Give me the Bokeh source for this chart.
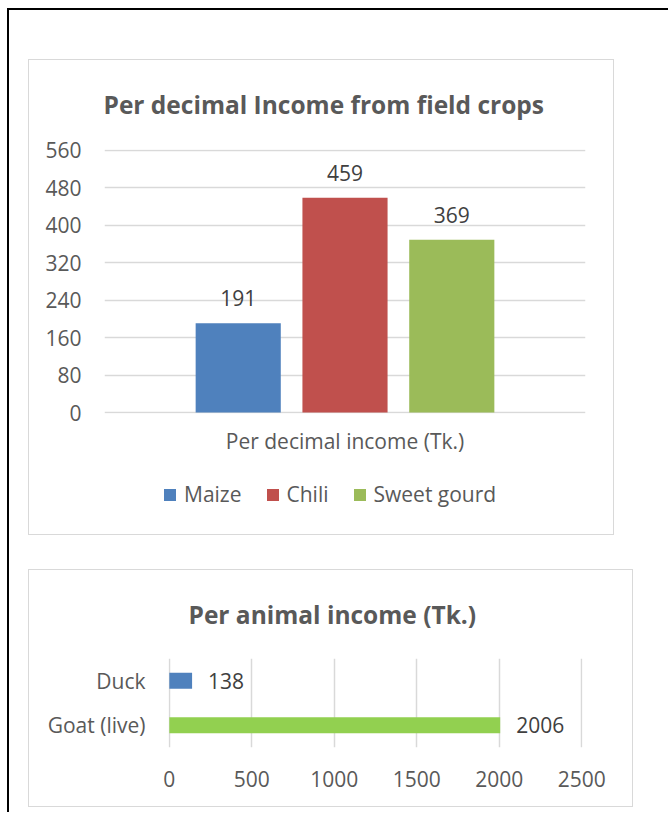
from bokeh.plotting import figure
from bokeh.models import (ColumnDataSource, FactorRange, Range1d, FixedTicker,
                          Legend, LegendItem, Title)
from bokeh.transform import dodge
from bokeh.layouts import column
from bokeh.core.properties import value
from bokeh.embed import file_html
from bokeh.resources import INLINE

# ---------------- data ----------------
crop_title = "Per decimal Income from field crops"
crop_category = "Per decimal income (Tk.)"
crops = ["Maize", "Chili", "Sweet gourd"]
crop_income = [191, 459, 369]
crop_colors = ["#4F81BD", "#C0504D", "#9BBB59"]
crop_ticks = [0, 80, 160, 240, 320, 400, 480, 560]

animal_title = "Per animal income (Tk.)"
animals = ["Goat (live)", "Duck"]
animal_income = [2006, 138]
animal_colors = ["#92D050", "#4F81BD"]
animal_ticks = [0, 500, 1000, 1500, 2000, 2500]

FONT = "Open Sans"
GREY = "#595959"
DARK = "#404040"
GRID = "#D9D9D9"
FS = "21px"


def no_align(p):
    if "frame_align" in p.properties():
        p.frame_align = False


def style_axis(ax):
    ax.axis_line_color = None
    ax.major_tick_line_color = None
    ax.minor_tick_line_color = None
    ax.major_label_text_font = FONT
    ax.major_label_text_font_size = FS
    ax.major_label_text_color = GREY


# ---------------- top chart ----------------
p1 = figure(width=584, height=410, x_range=FactorRange(crop_category),
            y_range=Range1d(-2, 562), output_backend="svg", toolbar_location=None,
            min_border_left=75, min_border_right=28, min_border_top=89,
            min_border_bottom=57)
no_align(p1)
p1.outline_line_color = None
p1.border_fill_color = "white"
p1.title = Title(text=crop_title, align="left", offset=-1, standoff=53,
                 vertical_align="top", text_font=FONT, text_font_size="24.5px",
                 text_font_style="bold", text_color=GREY)

for i, (crop, inc, col) in enumerate(zip(crops, crop_income, crop_colors)):
    src = ColumnDataSource(dict(cat=[crop_category], income=[inc], label=[str(inc)]))
    xpos = dodge("cat", (i - 1) * 0.222, range=p1.x_range)
    p1.vbar(x=xpos, top="income", width=0.177, source=src,
            fill_color=col, line_color=None)
    p1.text(x=xpos, y="income", text="label", source=src, text_align="center",
            text_baseline="middle", y_offset=-25, text_font=value(FONT),
            text_font_size=FS, text_color=DARK)

p1.xgrid.visible = False
p1.ygrid.grid_line_color = GRID
p1.ygrid.grid_line_width = 1.5
p1.yaxis.ticker = FixedTicker(ticks=crop_ticks)
style_axis(p1.xaxis[0])
style_axis(p1.yaxis[0])
p1.yaxis.major_label_standoff = 17
p1.xaxis.major_label_standoff = 7

# legend strip of the top chart (swatches keyed to the crop colours)
p1b = figure(width=584, height=64, x_range=Range1d(0, 1), y_range=Range1d(0, 1),
             x_axis_type=None, y_axis_type=None, output_backend="svg",
             toolbar_location=None, min_border=0)
no_align(p1b)
p1b.outline_line_color = None
p1b.xgrid.visible = False
p1b.ygrid.visible = False
items = []
for crop, col in zip(crops, crop_colors):
    # zero-height swatch source: only its colour is used, by the legend
    r = p1b.vbar(x=[0.5], top=[0], width=0.01, fill_color=col, line_color=None)
    items.append(LegendItem(label=crop, renderers=[r]))
legend = Legend(items=items, orientation="horizontal", location=(133, 26),
                border_line_color=None, background_fill_alpha=0,
                glyph_width=15, glyph_height=15, label_standoff=7, spacing=23,
                padding=0, margin=0, label_text_font=FONT,
                label_text_font_size=FS, label_text_color=GREY)
p1b.add_layout(legend)

box1 = column(p1, p1b, margin=(49, 0, 0, 19),
              styles={"border": "1px solid #D9D9D9"})

# ---------------- bottom chart ----------------
p2 = figure(width=605, height=238, y_range=FactorRange(*animals),
            x_range=Range1d(-5, 2505), output_backend="svg", toolbar_location=None,
            min_border_left=139, min_border_right=52, min_border_top=88,
            min_border_bottom=61)
no_align(p2)
p2.outline_line_color = None
p2.border_fill_color = "white"
p2.styles = {"border": "1px solid #D9D9D9"}
p2.title = Title(text=animal_title, align="left", offset=20, standoff=52,
                 vertical_align="top", text_font=FONT, text_font_size="24.5px",
                 text_font_style="bold", text_color=GREY)

src2 = ColumnDataSource(dict(animal=animals, income=animal_income,
                             color=animal_colors,
                             label=[str(v) for v in animal_income]))
p2.hbar(y="animal", right="income", height=0.36, source=src2,
        fill_color="color", line_color=None)
p2.text(x="income", y="animal", text="label", source=src2, x_offset=16,
        text_align="left", text_baseline="middle", text_font=value(FONT),
        text_font_size=FS, text_color=DARK)

p2.ygrid.visible = False
p2.xgrid.grid_line_color = GRID
p2.xgrid.grid_line_width = 1.5
p2.xaxis.ticker = FixedTicker(ticks=animal_ticks)
style_axis(p2.xaxis[0])
style_axis(p2.yaxis[0])
p2.yaxis.major_label_standoff = 17
p2.xaxis.major_label_standoff = 17
p2.margin = (34, 35, 5, 19)

root = column(box1, p2, margin=(8, 0, 0, 7),
              styles={"border-left": "2px solid #000", "border-top": "2px solid #000"})

open("out.html", "w").write(file_html(root, INLINE))
